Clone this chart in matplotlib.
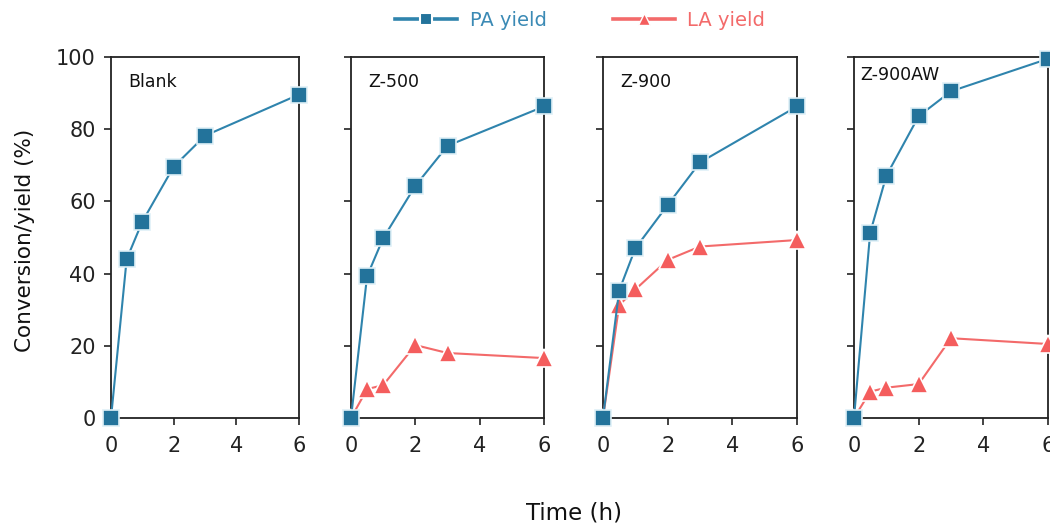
import matplotlib
matplotlib.use("Agg")
import matplotlib.pyplot as plt
from matplotlib.lines import Line2D

plt.rcParams['font.family'] = ['DejaVu Sans']

time_h = [0, 0.5, 1, 2, 3, 6]
panel_names = ["Blank", "Z-500", "Z-900", "Z-900AW"]
pa_yield = {
    "Blank":   [0, 44.0, 54.4, 69.6, 78.2, 89.6],
    "Z-500":   [0, 39.3, 49.8, 64.3, 75.4, 86.3],
    "Z-900":   [0, 35.3, 47.0, 59.0, 70.8, 86.3],
    "Z-900AW": [0, 51.3, 67.1, 83.6, 90.5, 99.5],
}
la_yield = {
    "Blank":   None,
    "Z-500":   [0, 8.0, 9.1, 20.2, 18.0, 16.6],
    "Z-900":   [0, 31.3, 35.6, 43.8, 47.5, 49.3],
    "Z-900AW": [0, 7.3, 8.4, 9.4, 22.1, 20.5],
}
x_ticks = [0, 2, 4, 6]
y_ticks = [0, 20, 40, 60, 80, 100]

PA_LINE = "#2f84ad"
PA_FACE = "#23739b"
LA_LINE = "#f36a6a"
LA_FACE = "#f45d5d"

fig = plt.figure(figsize=(10.5, 5.27), dpi=100)

W = 1050.0
H = 527.0
lefts = [111, 351, 603, 854]
widths = [188, 193, 194, 194]
top_px, bot_px = 57, 418

for i, name in enumerate(panel_names):
    ax = fig.add_axes([lefts[i] / W, 1 - bot_px / H, widths[i] / W, (bot_px - top_px) / H])
    ax.set_xlim(0, 6)
    ax.set_ylim(0, 100)
    la = la_yield[name]
    if la is not None:
        ax.plot(time_h, la, color=LA_LINE, lw=1.5, marker='^', ms=13,
                mfc=LA_FACE, mec='white', mew=1.2, clip_on=False, zorder=3)
    ax.plot(time_h, pa_yield[name], color=PA_LINE, lw=1.5, marker='s', ms=12,
            mfc=PA_FACE, mec='#dff0f7', mew=1.2, clip_on=False, zorder=4)
    ax.set_xticks(x_ticks)
    ax.set_yticks(y_ticks)
    ax.tick_params(direction='out', length=5, width=1.2, labelsize=15, colors='#222222')
    ax.tick_params(axis='x', pad=8)
    ax.tick_params(axis='y', pad=6)
    if i > 0:
        ax.set_yticklabels([])
    for sp in ax.spines.values():
        sp.set_linewidth(1.3)
        sp.set_color('#222222')
    ax.text(0.09 if i < 3 else 0.03, 0.955 if i < 3 else 0.975, name,
            transform=ax.transAxes, fontsize=12.5,
            ha='left', va='top', color='#111111')

fig.text(25 / W, 1 - 240 / H, "Conversion/yield (%)", rotation=90,
         fontsize=15.5, ha='center', va='center', color='#111111')
fig.text(574 / W, 1 - 513 / H, "Time (h)", fontsize=16.5, ha='center',
         va='center', color='#111111')

handles = [
    Line2D([0], [0], color=PA_LINE, lw=2.6, marker='s', ms=8, mfc=PA_FACE,
           mec='white', mew=1.5),
    Line2D([0], [0], color=LA_LINE, lw=2.6, marker='^', ms=9, mfc=LA_FACE,
           mec='white', mew=1.0),
]
leg = fig.legend(handles, ["PA yield", "LA yield"], ncol=2, frameon=False,
                 loc='center', bbox_to_anchor=(580 / W, 1 - 20 / H),
                 fontsize=14, handlelength=3.2, columnspacing=3.4,
                 handletextpad=0.65)
for t, c in zip(leg.get_texts(), ["#3b8ab5", "#f36a6a"]):
    t.set_color(c)

fig.savefig("out.png", dpi=100)
